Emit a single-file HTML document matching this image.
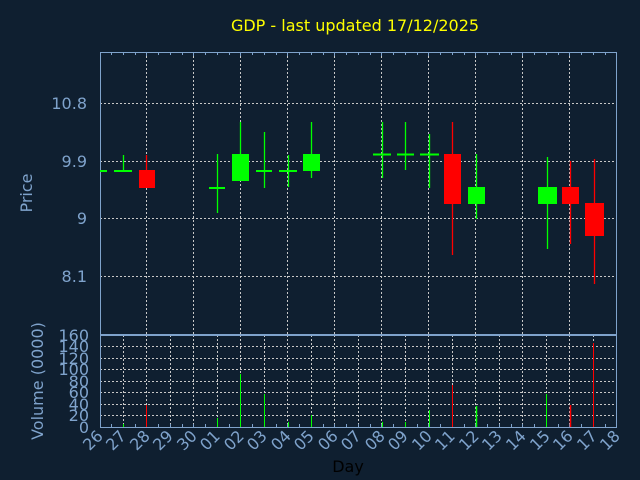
<!DOCTYPE html>
<html><head><meta charset="utf-8"><style>
html,body{margin:0;padding:0;background:#0f1f30;}
svg{display:block;font-family:"DejaVu Sans","Liberation Sans",sans-serif;}
</style></head><body>
<svg width="640" height="480" viewBox="0 0 640 480" xmlns="http://www.w3.org/2000/svg">
<rect width="640" height="480" fill="#0f1f30"/>
<text x="355" y="31" fill="#ffff00" font-size="16" text-anchor="middle">GDP - last updated 17/12/2025</text>
<g stroke="#c8c8c8" stroke-width="1" stroke-dasharray="2,2">
<line x1="146.5" y1="52" x2="146.5" y2="335"/><line x1="193.5" y1="52" x2="193.5" y2="335"/>
<line x1="240.5" y1="52" x2="240.5" y2="335"/><line x1="287.5" y1="52" x2="287.5" y2="335"/>
<line x1="334.5" y1="52" x2="334.5" y2="335"/><line x1="381.5" y1="52" x2="381.5" y2="335"/>
<line x1="428.5" y1="52" x2="428.5" y2="335"/><line x1="475.5" y1="52" x2="475.5" y2="335"/>
<line x1="522.5" y1="52" x2="522.5" y2="335"/><line x1="569.5" y1="52" x2="569.5" y2="335"/>
<line x1="100" y1="103.5" x2="617" y2="103.5"/><line x1="100" y1="161.5" x2="617" y2="161.5"/>
<line x1="100" y1="218.5" x2="617" y2="218.5"/><line x1="100" y1="276.5" x2="617" y2="276.5"/>
</g>
<g stroke="#c8c8c8" stroke-width="1" stroke-dasharray="2,2">
<line x1="123.5" y1="335" x2="123.5" y2="427"/><line x1="146.5" y1="335" x2="146.5" y2="427"/>
<line x1="170.5" y1="335" x2="170.5" y2="427"/><line x1="193.5" y1="335" x2="193.5" y2="427"/>
<line x1="217.5" y1="335" x2="217.5" y2="427"/><line x1="240.5" y1="335" x2="240.5" y2="427"/>
<line x1="264.5" y1="335" x2="264.5" y2="427"/><line x1="287.5" y1="335" x2="287.5" y2="427"/>
<line x1="311.5" y1="335" x2="311.5" y2="427"/><line x1="334.5" y1="335" x2="334.5" y2="427"/>
<line x1="358.5" y1="335" x2="358.5" y2="427"/><line x1="381.5" y1="335" x2="381.5" y2="427"/>
<line x1="405.5" y1="335" x2="405.5" y2="427"/><line x1="428.5" y1="335" x2="428.5" y2="427"/>
<line x1="452.5" y1="335" x2="452.5" y2="427"/><line x1="475.5" y1="335" x2="475.5" y2="427"/>
<line x1="499.5" y1="335" x2="499.5" y2="427"/><line x1="522.5" y1="335" x2="522.5" y2="427"/>
<line x1="546.5" y1="335" x2="546.5" y2="427"/><line x1="569.5" y1="335" x2="569.5" y2="427"/>
<line x1="593.5" y1="335" x2="593.5" y2="427"/>
<line x1="100" y1="415.5" x2="617" y2="415.5"/><line x1="100" y1="404.5" x2="617" y2="404.5"/>
<line x1="100" y1="392.5" x2="617" y2="392.5"/><line x1="100" y1="381.5" x2="617" y2="381.5"/>
<line x1="100" y1="369.5" x2="617" y2="369.5"/><line x1="100" y1="358.5" x2="617" y2="358.5"/>
<line x1="100" y1="346.5" x2="617" y2="346.5"/>
</g>
<g stroke="#7fa3cc" fill="none" stroke-width="1">
<rect x="100.5" y="52.5" width="516" height="282"/>
<rect x="100.5" y="335.5" width="516" height="92"/>
</g>
<!-- minor ticks -->
<g stroke="#7fa3cc" stroke-width="1">
<path d="M111.5 52v3M123.5 52v3M135.5 52v3M146.5 52v4M158.5 52v3M170.5 52v3M182.5 52v3M193.5 52v4M205.5 52v3M217.5 52v3M229.5 52v3M240.5 52v4M252.5 52v3M264.5 52v3M276.5 52v3M287.5 52v4M299.5 52v3M311.5 52v3M323.5 52v3M334.5 52v4M346.5 52v3M358.5 52v3M370.5 52v3M381.5 52v4M393.5 52v3M405.5 52v3M417.5 52v3M428.5 52v4M440.5 52v3M452.5 52v3M464.5 52v3M475.5 52v4M487.5 52v3M499.5 52v3M511.5 52v3M522.5 52v4M534.5 52v3M546.5 52v3M558.5 52v3M569.5 52v4M581.5 52v3M593.5 52v3M605.5 52v3"/>
<path d="M111.5 427v-3M123.5 427v-3M135.5 427v-3M146.5 427v-3M158.5 427v-3M170.5 427v-3M182.5 427v-3M193.5 427v-3M205.5 427v-3M217.5 427v-3M229.5 427v-3M240.5 427v-3M252.5 427v-3M264.5 427v-3M276.5 427v-3M287.5 427v-3M299.5 427v-3M311.5 427v-3M323.5 427v-3M334.5 427v-3M346.5 427v-3M358.5 427v-3M370.5 427v-3M381.5 427v-3M393.5 427v-3M405.5 427v-3M417.5 427v-3M428.5 427v-3M440.5 427v-3M452.5 427v-3M464.5 427v-3M475.5 427v-3M487.5 427v-3M499.5 427v-3M511.5 427v-3M522.5 427v-3M534.5 427v-3M546.5 427v-3M558.5 427v-3M569.5 427v-3M581.5 427v-3M593.5 427v-3M605.5 427v-3"/>
</g>
<g stroke="#00ff00" stroke-width="1.3">
<line x1="100" y1="171" x2="107" y2="171" stroke-width="2"/>
<line x1="114" y1="171" x2="132" y2="171" stroke-width="2"/><line x1="123.5" y1="155" x2="123.5" y2="171"/>
<line x1="209" y1="188" x2="225" y2="188" stroke-width="2"/><line x1="217.5" y1="154" x2="217.5" y2="213"/>
<line x1="240.5" y1="122" x2="240.5" y2="154"/>
<line x1="256" y1="171" x2="272" y2="171" stroke-width="2"/><line x1="264.5" y1="132" x2="264.5" y2="188"/>
<line x1="279" y1="171" x2="297" y2="171" stroke-width="2"/><line x1="288.5" y1="155" x2="288.5" y2="187"/>
<line x1="311.5" y1="122" x2="311.5" y2="178"/>
<line x1="373" y1="154.5" x2="391" y2="154.5" stroke-width="2"/><line x1="382.5" y1="122" x2="382.5" y2="178"/>
<line x1="397" y1="154.5" x2="414" y2="154.5" stroke-width="2"/><line x1="405.5" y1="122" x2="405.5" y2="170"/>
<line x1="420" y1="154.5" x2="439" y2="154.5" stroke-width="2"/><line x1="429.5" y1="134" x2="429.5" y2="188"/>
<line x1="476.5" y1="154" x2="476.5" y2="219"/>
<line x1="547.5" y1="157" x2="547.5" y2="249"/>
</g>
<rect x="232" y="154" width="17" height="27" fill="#00ff00"/>
<rect x="303" y="154" width="17" height="17" fill="#00ff00"/>
<rect x="468" y="187" width="17" height="17" fill="#00ff00"/>
<rect x="538" y="187" width="19" height="17" fill="#00ff00"/>
<g stroke="#ff0000" stroke-width="1.3">
<line x1="146.5" y1="155" x2="146.5" y2="170"/>
<line x1="452.5" y1="122" x2="452.5" y2="255"/>
<line x1="570.5" y1="161" x2="570.5" y2="244"/>
<line x1="594.5" y1="159" x2="594.5" y2="284"/>
</g>
<rect x="139" y="170" width="16" height="18" fill="#ff0000"/>
<rect x="444" y="154" width="17" height="50" fill="#ff0000"/>
<rect x="562" y="187" width="17" height="17" fill="#ff0000"/>
<rect x="585" y="203" width="19" height="33" fill="#ff0000"/>
<g stroke="#00ff00" stroke-width="1">
<line x1="123.5" y1="424" x2="123.5" y2="427"/>
<line x1="217.5" y1="418" x2="217.5" y2="427"/>
<line x1="240.5" y1="374" x2="240.5" y2="427"/>
<line x1="264.5" y1="394" x2="264.5" y2="427"/>
<line x1="288.5" y1="422" x2="288.5" y2="427"/>
<line x1="311.5" y1="415" x2="311.5" y2="427"/>
<line x1="382.5" y1="422" x2="382.5" y2="427"/>
<line x1="405.5" y1="422" x2="405.5" y2="427"/>
<line x1="429.5" y1="410" x2="429.5" y2="427"/>
<line x1="476.5" y1="406" x2="476.5" y2="427" stroke-width="1.5"/>
<line x1="546.5" y1="394" x2="546.5" y2="427"/>
</g>
<g stroke="#ff0000" stroke-width="1">
<line x1="146.5" y1="405" x2="146.5" y2="427"/>
<line x1="452.5" y1="385" x2="452.5" y2="427"/>
<line x1="570.5" y1="405" x2="570.5" y2="427" stroke-width="1.5"/>
<line x1="593.5" y1="343" x2="593.5" y2="427"/>
</g>
<g fill="#7fa3cc" font-size="16" text-anchor="end">
<text x="87" y="109">10.8</text><text x="87" y="167">9.9</text>
<text x="87" y="224">9</text><text x="87" y="282">8.1</text>
</g>
<g fill="#7fa3cc" font-size="16" text-anchor="end">
<text x="89" y="341">160</text><text x="89" y="352">140</text><text x="89" y="364">120</text>
<text x="89" y="375">100</text><text x="89" y="387">80</text><text x="89" y="398">60</text>
<text x="89" y="410">40</text><text x="89" y="421">20</text><text x="89" y="433">0</text>
</g>
<text transform="translate(32,193) rotate(-90)" fill="#7fa3cc" font-size="16" text-anchor="middle">Price</text>
<text transform="translate(43,381) rotate(-90)" fill="#7fa3cc" font-size="16" text-anchor="middle">Volume (0000)</text>
<g fill="#7fa3cc" font-size="16" text-anchor="end">
<text transform="translate(104,437) rotate(-45)">26</text>
<text transform="translate(127,437) rotate(-45)">27</text>
<text transform="translate(151,437) rotate(-45)">28</text>
<text transform="translate(174,437) rotate(-45)">29</text>
<text transform="translate(198,437) rotate(-45)">30</text>
<text transform="translate(221,437) rotate(-45)">01</text>
<text transform="translate(245,437) rotate(-45)">02</text>
<text transform="translate(268,437) rotate(-45)">03</text>
<text transform="translate(292,437) rotate(-45)">04</text>
<text transform="translate(315,437) rotate(-45)">05</text>
<text transform="translate(339,437) rotate(-45)">06</text>
<text transform="translate(362,437) rotate(-45)">07</text>
<text transform="translate(386,437) rotate(-45)">08</text>
<text transform="translate(409,437) rotate(-45)">09</text>
<text transform="translate(433,437) rotate(-45)">10</text>
<text transform="translate(456,437) rotate(-45)">11</text>
<text transform="translate(480,437) rotate(-45)">12</text>
<text transform="translate(503,437) rotate(-45)">13</text>
<text transform="translate(527,437) rotate(-45)">14</text>
<text transform="translate(551,437) rotate(-45)">15</text>
<text transform="translate(574,437) rotate(-45)">16</text>
<text transform="translate(598,437) rotate(-45)">17</text>
<text transform="translate(621,437) rotate(-45)">18</text>
</g>
<text x="348" y="472" fill="#000000" font-size="16" text-anchor="middle">Day</text>
</svg>
</body></html>
